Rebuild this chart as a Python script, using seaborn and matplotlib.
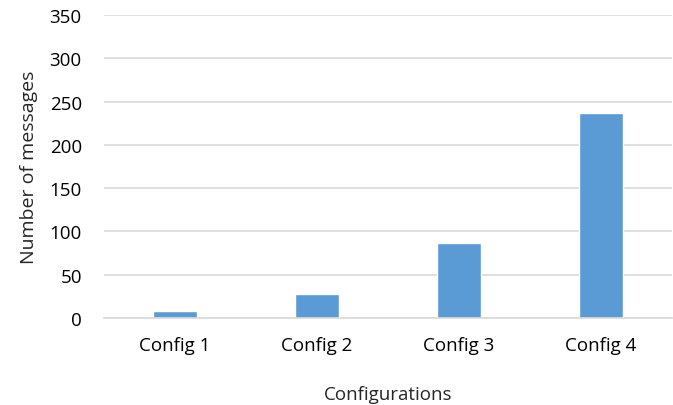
import matplotlib
matplotlib.use("Agg")
import matplotlib.pyplot as plt
import seaborn as sns
import pandas as pd

configs = ["Config 1", "Config 2", "Config 3", "Config 4"]
messages = [8, 28, 87, 237]
y_ticks = [0, 50, 100, 150, 200, 250, 300, 350]

df = pd.DataFrame({"config": configs, "messages": messages})

sns.set_style("white")
plt.rcParams["font.family"] = ["Open Sans", "DejaVu Sans"]

fig = plt.figure(figsize=(6.73, 4.06), dpi=100)
ax = fig.add_axes([0.1545, 0.2143, 0.8435, 0.7463])

sns.barplot(
    data=df,
    x="config",
    y="messages",
    color="#5B9BD5",
    width=0.31,
    saturation=1,
    ax=ax
)

ax.set_ylim(0, 350)
ax.set_yticks(y_ticks)
ax.set_xlim(-0.5, 3.5)
ax.yaxis.grid(True, color="#D9D9D9", linewidth=1.2)
ax.set_axisbelow(True)
for side in ["top", "right", "left"]:
    ax.spines[side].set_visible(False)
ax.spines["bottom"].set_color("#D9D9D9")
ax.spines["bottom"].set_linewidth(1.2)
ax.tick_params(axis="both", length=0, labelsize=13.5, colors="#000000", pad=13)
ax.tick_params(axis="y", pad=16)

ax.set_xlabel("Configurations", fontsize=13.5, labelpad=22)
ax.set_ylabel("Number of messages", fontsize=14, labelpad=8)

fig.savefig("out.png", dpi=100)
